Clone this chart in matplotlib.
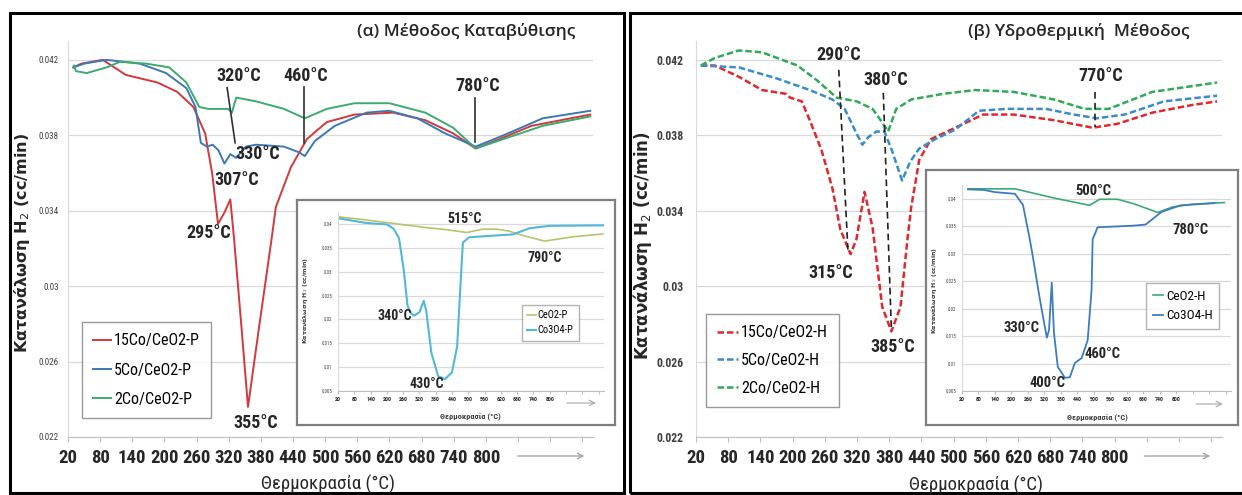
import matplotlib
matplotlib.use('Agg')
import matplotlib.pyplot as plt
from matplotlib import font_manager
from matplotlib.patches import Rectangle

W, H = 1242, 495


def pick_narrow():
    fl = font_manager.fontManager.ttflist
    nm = {f.name for f in fl}
    for n in ['Liberation Sans Narrow', 'Roboto Condensed', 'Open Sans Condensed', 'Noto Sans Condensed',
              'Arimo Narrow', 'Lato']:
        if n in nm:
            return n, 'normal'
    for base in ['DejaVu Sans', 'Noto Sans', 'Open Sans', 'Roboto']:
        if any(f.name == base and f.stretch in ('condensed', 'semi-condensed', 'extra-condensed') for f in fl):
            return base, 'condensed'
    return 'Liberation Sans', 'normal'


NARROW, STRETCH = pick_narrow()
plt.rcParams['font.family'] = [NARROW, 'DejaVu Sans']
plt.rcParams['font.stretch'] = STRETCH

# ---------------- data ----------------
# (a) precipitation method
T_15P = [30, 45, 85, 128, 187, 224, 254, 276, 289, 300, 312, 323, 330, 343, 356, 378, 400, 408, 436, 466,
         503, 555, 627, 687, 739, 781, 826, 885, 995]
V_15P = [0.0416, 0.0418, 0.0420, 0.0412, 0.0408, 0.0403, 0.0395, 0.0381, 0.0360, 0.0333, 0.0339, 0.0346,
         0.0325, 0.0281, 0.0236, 0.0281, 0.0325, 0.0342, 0.0363, 0.0378, 0.0387, 0.0391, 0.0392, 0.0388,
         0.0381, 0.0373, 0.0378, 0.0385, 0.0391]
T_5P = [30, 50, 92, 154, 203, 241, 258, 268, 279, 290, 301, 312, 323, 334, 352, 371, 423, 451, 462, 481,
        518, 577, 620, 672, 724, 781, 833, 906, 995]
V_5P = [0.0416, 0.0418, 0.0420, 0.0418, 0.0413, 0.0405, 0.0395, 0.0376, 0.0374, 0.0375, 0.0372, 0.0365,
        0.0370, 0.0368, 0.0374, 0.0375, 0.0374, 0.0371, 0.0369, 0.0377, 0.0385, 0.0392, 0.0393, 0.0389,
        0.0381, 0.0374, 0.0380, 0.0389, 0.0393]
T_2P = [31, 35, 55, 92, 117, 166, 209, 241, 265, 282, 319, 326, 334, 371, 423, 462, 503, 555, 620, 687,
        739, 781, 833, 906, 995]
V_2P = [0.0417, 0.0414, 0.0413, 0.0416, 0.0419, 0.0418, 0.0416, 0.0408, 0.0395, 0.0394, 0.0394, 0.0392,
        0.0400, 0.0398, 0.0394, 0.0389, 0.0394, 0.0397, 0.0397, 0.0392, 0.0384, 0.0373, 0.0378, 0.0385,
        0.0390]
# inset (a)
T_CO3O4P = [20, 124, 200, 225, 245, 263, 276, 290, 301, 320, 336, 345, 364, 389, 414, 440, 459, 471, 480,
            503, 579, 664, 726, 800, 996]
V_CO3O4P = [0.0412, 0.0402, 0.0399, 0.0390, 0.0370, 0.0300, 0.0229, 0.0212, 0.0208, 0.0215, 0.0239,
            0.0218, 0.0130, 0.0081, 0.0075, 0.0089, 0.0144, 0.0270, 0.0361, 0.0372, 0.0375, 0.0378,
            0.0391, 0.0396, 0.0397]
T_CEO2P = [20, 100, 211, 350, 420, 494, 553, 605, 650, 700, 781, 885, 996]
V_CEO2P = [0.0415, 0.0410, 0.0402, 0.0392, 0.0388, 0.0382, 0.0389, 0.0389, 0.0385, 0.0376, 0.0364,
           0.0373, 0.0379]

# (b) hydrothermal method
T_15H = [29, 55, 100, 143, 187, 195, 217, 232, 254, 274, 289, 308, 319, 334, 349, 367, 384, 401, 414, 421,
         436, 458, 503, 555, 612, 687, 759, 804, 870, 943, 991]
V_15H = [0.0417, 0.0417, 0.0411, 0.0404, 0.0402, 0.0400, 0.0398, 0.0388, 0.0372, 0.0352, 0.0330, 0.0317,
         0.0325, 0.0350, 0.0331, 0.0289, 0.0276, 0.0289, 0.0325, 0.0342, 0.0367, 0.0378, 0.0384, 0.0391,
         0.0391, 0.0388, 0.0384, 0.0386, 0.0392, 0.0396, 0.0398]
T_5H = [29, 100, 172, 232, 274, 297, 319, 330, 341, 356, 371, 385, 404, 419, 436, 466, 503, 547, 598, 672,
        724, 767, 819, 892, 991]
V_5H = [0.0417, 0.0416, 0.0410, 0.0404, 0.0399, 0.0394, 0.0381, 0.0375, 0.0379, 0.0382, 0.0382, 0.0372,
        0.0356, 0.0366, 0.0373, 0.0378, 0.0383, 0.0393, 0.0394, 0.0394, 0.0391, 0.0389, 0.0391, 0.0398,
        0.0401]
T_2H = [29, 55, 100, 143, 209, 246, 282, 319, 349, 364, 378, 393, 421, 481, 540, 612, 687, 744, 767, 789,
        870, 991]
V_2H = [0.0417, 0.0421, 0.0425, 0.0424, 0.0417, 0.0409, 0.0400, 0.0398, 0.0394, 0.0388, 0.0382, 0.0394,
        0.0399, 0.0402, 0.0404, 0.0403, 0.0399, 0.0394, 0.0394, 0.0394, 0.0403, 0.0408]
# inset (b)
T_CO3O4H = [42, 100, 140, 213, 242, 267, 278, 304, 329, 337, 347, 355, 369, 395, 413, 431, 456, 478, 492,
            496, 514, 645, 689, 747, 816, 940]
V_CO3O4H = [0.0417, 0.0416, 0.0412, 0.0409, 0.0389, 0.0326, 0.0295, 0.0216, 0.0147, 0.0161, 0.0247,
            0.0156, 0.0094, 0.0074, 0.0075, 0.0101, 0.0110, 0.0143, 0.0234, 0.0326, 0.0348, 0.0351,
            0.0353, 0.0376, 0.0388, 0.0392]
T_CEO2H = [42, 213, 358, 485, 521, 587, 645, 733, 787, 860, 976]
V_CEO2H = [0.0418, 0.0418, 0.0401, 0.0388, 0.0399, 0.0399, 0.0391, 0.0375, 0.0385, 0.0390, 0.0393]

# axes ticks / labels
X_TICKS = [20, 80, 140, 200, 260, 320, 380, 440, 500, 560, 620, 680, 740, 800, 860, 920, 980]
X_LABELS = ['20', '80', '140', '200', '260', '320', '380', '440', '500', '560', '620', '680', '740', '800',
            '', '', '']
Y_TICKS = [0.022, 0.026, 0.030, 0.034, 0.038, 0.042]
Y_LABELS = ['0.022', '0.026', '0.03', '0.034', '0.038', '0.042']
YI_TICKS = [0.005, 0.010, 0.015, 0.020, 0.025, 0.030, 0.035, 0.040]
YI_LABELS = ['0.005', '0.01', '0.015', '0.02', '0.025', '0.03', '0.035', '0.04']

# peak annotations: (x0, y0, x1, y1)
LINES_A = [(317, 0.04052, 332, 0.0376), (460, 0.04057, 460, 0.0376), (780, 0.0400, 780, 0.03765)]
LINES_B = [(286, 0.04147, 303, 0.03193), (369, 0.04025, 384, 0.02769), (763, 0.0403, 763, 0.03845)]
LABELS_A = [('320°C', 339, 0.04115), ('460°C', 464, 0.04115), ('780°C', 785, 0.04062),
            ('330°C', 375, 0.0370), ('307°C', 334, 0.03564), ('295°C', 282, 0.03283),
            ('355°C', 371, 0.02276)]
LABELS_B = [('290°C', 286, 0.04227), ('380°C', 373, 0.04094), ('770°C', 774, 0.04115),
            ('315°C', 271, 0.03071), ('385°C', 386, 0.02679)]
LABELS_IA = [('515°C', 487, 0.0410), ('790°C', 782, 0.0329), ('340°C', 230, 0.0207), ('430°C', 347, 0.00647)]
LABELS_IB = [('500°C', 500, 0.0414), ('780°C', 853, 0.0343), ('330°C', 238, 0.01647),
             ('400°C', 333, 0.00646), ('460°C', 533, 0.01174)]

C_RED, C_BLUE, C_GREEN = '#D2383C', '#3C78B4', '#3DAA6E'
C_RED_H, C_BLUE_H, C_GREEN_H = '#E0282C', '#3A8CCB', '#2FAA55'
C_CEO2P, C_CO3O4P = '#B6C46A', '#52B7D8'
C_CEO2H, C_CO3O4H = '#3DAA72', '#3E7CC0'
TXT = '#262626'

fig = plt.figure(figsize=(W / 100, H / 100), dpi=100)


def box(x0, y0, x1, y1):
    return [x0 / W, 1 - y1 / H, (x1 - x0) / W, (y1 - y0) / H]


def fx(x):
    return x / W


def fy(y):
    return 1 - y / H


# panel frames
for (x0, y0, x1, y1) in [(10, 13, 624, 493), (630, 13, 1252, 493)]:
    fig.patches.append(Rectangle((fx(x0), fy(y1)), (x1 - x0) / W, (y1 - y0) / H,
                                 transform=fig.transFigure, fill=False, lw=2.2, ec='black'))


def style_axes(ax, ylim, yt, yl, ylabsize, ypad, xlabsize, xpad, ticklen, ylweight='normal'):
    ax.set_facecolor('none')
    ax.set_xlim(20, 1000)
    ax.set_ylim(*ylim)
    ax.set_yticks(yt)
    ax.set_yticklabels(yl, fontsize=ylabsize, color='#404040', fontweight=ylweight)
    ax.set_xticks(X_TICKS)
    ax.set_xticklabels(X_LABELS, fontsize=xlabsize, fontweight='bold', color=TXT)
    ax.yaxis.grid(True, color='#D9D9D9', lw=0.9)
    ax.set_axisbelow(True)
    for s in ('top', 'right'):
        ax.spines[s].set_visible(False)
    ax.spines['left'].set_color('#D9D9D9')
    ax.spines['bottom'].set_color('#BFBFBF')
    ax.tick_params(axis='y', length=0, pad=ypad)
    ax.tick_params(axis='x', direction='out', length=ticklen, color='#BFBFBF', pad=xpad)


def arrow(ax, x0, x1, y, lw=1.0):
    ax.annotate('', xy=(x1, y), xytext=(x0, y), xycoords='axes fraction', textcoords='axes fraction',
                arrowprops=dict(arrowstyle='->', color='#A6A6A6', lw=lw), annotation_clip=False)


TITLE_FONT = ['Open Sans', 'DejaVu Sans']

# ---------------- main panel (a) ----------------
axA = fig.add_axes(box(68, 41, 593, 437), zorder=1)
style_axes(axA, (0.022, 0.043), Y_TICKS, Y_LABELS, 6.5, 6.5, 13.5, 5, 3.5)
lA1, = axA.plot(T_15P, V_15P, color=C_RED, lw=1.4, label='15Co/CeO2-P')
lA2, = axA.plot(T_5P, V_5P, color=C_BLUE, lw=1.4, label='5Co/CeO2-P')
lA3, = axA.plot(T_2P, V_2P, color=C_GREEN, lw=1.4, label='2Co/CeO2-P')
for (x0, y0, x1, y1) in LINES_A:
    axA.plot([x0, x1], [y0, y1], color='#303030', lw=1.2)
for (s, x, y) in LABELS_A:
    axA.text(x, y, s, fontsize=13, fontweight='bold', ha='center', va='center', color=TXT)
arrow(axA, 0.851, 0.989, -0.048)
fig.text(fx(22), fy(243), 'Κατανάλωση H$_2$ (cc/min)', rotation=90, ha='center', va='center',
         fontsize=11.5, fontweight='bold', family='DejaVu Sans', stretch='normal', color=TXT)
fig.text(fx(328), fy(484), 'Θερμοκρασία (°C)', ha='center', va='center', fontsize=13.5, color=TXT)
fig.text(fx(575), fy(32), '(α) Μέθοδος Καταβύθισης', ha='right', va='center', fontsize=12.5,
         family=TITLE_FONT, stretch='normal', fontweight='semibold', color=TXT)
legA = fig.legend(handles=[lA1, lA2, lA3], loc='upper left', bbox_to_anchor=(fx(82), fy(322)),
                  bbox_transform=fig.transFigure, fontsize=11.5, frameon=True, fancybox=False,
                  edgecolor='#808080', handlelength=1.1, handletextpad=0.2, labelspacing=0.9,
                  borderpad=0.7, borderaxespad=0)
legA.get_frame().set_linewidth(1.0)

# ---------------- main panel (b) ----------------
axB = fig.add_axes(box(696, 41, 1222, 437), zorder=1)
style_axes(axB, (0.022, 0.043), Y_TICKS, Y_LABELS, 8.5, 9, 13.5, 5, 3.5, ylweight='bold')
dash = (0, (2.6, 1.2))
lB1, = axB.plot(T_15H, V_15H, color=C_RED_H, lw=1.8, ls=dash, label='15Co/CeO2-H')
lB2, = axB.plot(T_5H, V_5H, color=C_BLUE_H, lw=1.8, ls=dash, label='5Co/CeO2-H')
lB3, = axB.plot(T_2H, V_2H, color=C_GREEN_H, lw=1.8, ls=dash, label='2Co/CeO2-H')
for (x0, y0, x1, y1) in LINES_B:
    axB.plot([x0, x1], [y0, y1], color='#202020', lw=1.2, ls=(0, (4, 2.5)))
for (s, x, y) in LABELS_B:
    axB.text(x, y, s, fontsize=13, fontweight='bold', ha='center', va='center', color=TXT)
arrow(axB, 0.847, 0.983, -0.048)
fig.text(fx(642), fy(246), 'Κατανάλωση H$_2$ (cc/min)', rotation=90, ha='center', va='center',
         fontsize=12, fontweight='bold', family='DejaVu Sans', stretch='normal', color=TXT)
fig.text(fx(976), fy(485), 'Θερμοκρασία (°C)', ha='center', va='center', fontsize=13.5, color=TXT)
fig.text(fx(1189), fy(32), '(β) Υδροθερμική  Μέθοδος', ha='right', va='center', fontsize=12.5,
         family=TITLE_FONT, stretch='normal', fontweight='semibold', color=TXT)
legB = fig.legend(handles=[lB1, lB2, lB3], loc='upper left', bbox_to_anchor=(fx(706), fy(314)),
                  bbox_transform=fig.transFigure, fontsize=11.5, frameon=True, fancybox=False,
                  edgecolor='#808080', handlelength=1.3, handletextpad=0.2, labelspacing=0.8,
                  borderpad=0.7, borderaxespad=0)
legB.get_frame().set_linewidth(1.0)


# ---------------- insets ----------------
def inset_frame(x0, y0, x1, y1):
    fr = fig.add_axes(box(x0, y0, x1, y1), zorder=2)
    fr.set_facecolor('white')
    fr.set_xticks([])
    fr.set_yticks([])
    for s in fr.spines.values():
        s.set_color('#7F7F7F')
        s.set_linewidth(1.6)
    return fr


inset_frame(297, 200, 615, 425)
axIA = fig.add_axes(box(338, 212, 604, 391), zorder=3)
style_axes(axIA, (0.005, 0.0425), YI_TICKS, YI_LABELS, 3.5, 4, 4.2, 2.5, 2)
lIA1, = axIA.plot(T_CEO2P, V_CEO2P, color=C_CEO2P, lw=1.2, label='CeO2-P')
lIA2, = axIA.plot(T_CO3O4P, V_CO3O4P, color=C_CO3O4P, lw=1.5, label='Co3O4-P')
for (s, x, y) in LABELS_IA:
    axIA.text(x, y, s, fontsize=10, fontweight='bold', ha='center', va='center', color=TXT)
arrow(axIA, 0.85, 0.98, -0.067, lw=0.8)
fig.text(fx(305), fy(300), 'Κατανάλωση H$_2$ (cc/min)', rotation=90, ha='center', va='center',
         fontsize=4.5, fontweight='bold', family='DejaVu Sans', stretch='normal', color='#404040')
fig.text(fx(470), fy(417), 'Θερμοκρασία (°C)', ha='center', va='center', fontsize=6, color='#404040',
         fontweight='bold')
legIA = fig.legend(handles=[lIA1, lIA2], loc='upper left', bbox_to_anchor=(fx(522), fy(305)),
                   bbox_transform=fig.transFigure, fontsize=7.5, frameon=True, fancybox=False,
                   edgecolor='#A0A0A0', handlelength=0.8, handletextpad=0.2, labelspacing=0.5,
                   borderpad=0.5, borderaxespad=0)
legIA.set_zorder(5)

inset_frame(926, 170, 1238, 425)
axIB = fig.add_axes(box(962, 185, 1231, 391), zorder=3)
style_axes(axIB, (0.005, 0.0425), YI_TICKS, YI_LABELS, 3.5, 4, 4.2, 2.5, 2)
lIB1, = axIB.plot(T_CEO2H, V_CEO2H, color=C_CEO2H, lw=1.2, label='CeO2-H')
lIB2, = axIB.plot(T_CO3O4H, V_CO3O4H, color=C_CO3O4H, lw=1.3, label='Co3O4-H')
for (s, x, y) in LABELS_IB:
    axIB.text(x, y, s, fontsize=10.5, fontweight='bold', ha='center', va='center', color=TXT)
arrow(axIB, 0.86, 0.98, -0.063, lw=0.8)
fig.text(fx(934), fy(290), 'Κατανάλωση H$_2$ (cc/min)', rotation=90, ha='center', va='center',
         fontsize=4.5, fontweight='bold', family='DejaVu Sans', stretch='normal', color='#404040')
fig.text(fx(1097), fy(418), 'Θερμοκρασία (°C)', ha='center', va='center', fontsize=6, color='#404040',
         fontweight='bold')
legIB = fig.legend(handles=[lIB1, lIB2], loc='upper left', bbox_to_anchor=(fx(1146), fy(283)),
                   bbox_transform=fig.transFigure, fontsize=9.5, frameon=True, fancybox=False,
                   edgecolor='#A0A0A0', handlelength=0.8, handletextpad=0.2, labelspacing=0.5,
                   borderpad=0.5, borderaxespad=0)
legIB.set_zorder(5)

fig.savefig('out.png', dpi=100, facecolor='white')
